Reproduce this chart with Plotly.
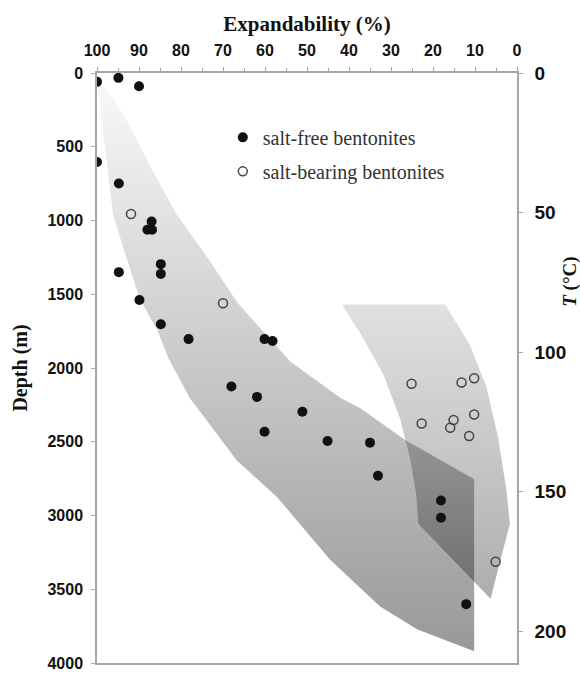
import plotly.graph_objects as go

# ---- data ----
# salt-free bentonites: expandability (%) and depth (m)
free_exp = [100, 94.9, 90, 100, 94.8, 87, 88, 86.9, 84.8, 84.8, 94.8, 89.9, 84.8,
            78.2, 60.1, 58.2, 68.0, 61.9, 51.1, 60.1, 45.1, 35.0, 33.1, 18.1, 18.1, 12.1]
free_depth = [60, 33, 90, 603, 749, 1007, 1063, 1063, 1296, 1362, 1350, 1539, 1703,
              1804, 1804, 1817, 2125, 2196, 2297, 2432, 2495, 2506, 2730, 2898, 3015, 3601]

# salt-bearing bentonites
salt_exp = [91.9, 70, 25.1, 13.2, 10.2, 22.7, 15.1, 15.9, 10.2, 11.4, 5.1]
salt_depth = [956, 1561, 2107, 2098, 2069, 2376, 2353, 2405, 2315, 2461, 3314]

# envelope of salt-free trend (polygon outline)
band1_exp = [100, 96.9, 92.1, 87, 81, 73.5, 66.5, 58.5, 54, 42, 37.4, 26.7, 10.2,
             10.2, 23.8, 32.6, 44.5, 57.1, 66.7, 77.9, 83, 85.5, 89.8, 92.9, 96.2, 97.7, 100]
band1_depth = [50, 137, 363, 650, 959, 1260, 1560, 1810, 1956, 2203, 2271, 2486, 2755,
               3920, 3772, 3617, 3300, 2876, 2627, 2203, 1934, 1752, 1530, 1261, 959, 590, 50]

# envelope of salt-bearing trend
band2_exp = [41.7, 17.1, 11.2, 7.2, 4.5, 2.5, 1.7, 6.3, 23.5, 24.0, 25.5, 27.9, 31.8, 36.6, 41.7]
band2_depth = [1570, 1570, 1844, 2136, 2472, 2831, 3056, 3565, 3056, 2854, 2607, 2338, 2046, 1799, 1570]

x_ticks = list(range(0, 101, 10))
depth_ticks = list(range(0, 4001, 500))
temp_ticks = [0, 50, 100, 150, 200]
depth_max = 4000
temp_max = 211.3

axis_col = "#a6a6a6"
tick_font = dict(family="Liberation Sans", size=16, color="#111111", weight="bold")
serif = "Liberation Serif"

fig = go.Figure()

fig.add_trace(go.Scatter(
    x=band1_exp, y=band1_depth, mode="lines", fill="toself",
    line=dict(width=0), showlegend=False, hoverinfo="skip",
    fillgradient=dict(type="vertical", start=0, stop=depth_max,
                      colorscale=[[0, "rgba(0,0,0,0.02)"], [1, "rgba(0,0,0,0.41)"]])))
fig.add_trace(go.Scatter(
    x=band2_exp, y=band2_depth, mode="lines", fill="toself",
    line=dict(width=0), showlegend=False, hoverinfo="skip",
    fillgradient=dict(type="vertical", start=min(band2_depth), stop=max(band2_depth),
                      colorscale=[[0, "rgba(0,0,0,0.12)"], [1, "rgba(0,0,0,0.32)"]])))

fig.add_trace(go.Scatter(
    x=free_exp, y=free_depth, mode="markers", name="salt-free bentonites",
    marker=dict(symbol="circle", size=10, color="#111111", line=dict(width=0)),
    legendgroup="a"))
fig.add_trace(go.Scatter(
    x=salt_exp, y=salt_depth, mode="markers", name="salt-bearing bentonites",
    marker=dict(symbol="circle-open", size=9, color="#444444", line=dict(width=1.5)),
    legendgroup="b"))

# invisible trace to activate the temperature axis
fig.add_trace(go.Scatter(x=[], y=[], yaxis="y2", showlegend=False, hoverinfo="skip"))

fig.update_layout(
    width=580, height=673,
    margin=dict(l=97, r=63, t=73, b=10),
    paper_bgcolor="white", plot_bgcolor="white",
    showlegend=True,
    legend=dict(x=0.2995, y=0.924, xanchor="left", yanchor="top",
                font=dict(family=serif, size=20, color="#333333"),
                bgcolor="rgba(0,0,0,0)", tracegroupgap=5, itemwidth=30),
    xaxis=dict(side="top", range=[100, 0], tickvals=x_ticks, ticks="outside", ticklen=4,
               tickcolor=axis_col, tickwidth=1.2,
               minor=dict(dtick=5, tick0=0, ticks="outside", ticklen=3, tickcolor=axis_col),
               showline=True, linecolor=axis_col, linewidth=1.5, mirror=True,
               showgrid=False, zeroline=False, tickfont=tick_font, ticklabelstandoff=5,
               title=dict(text="<b>Expandability (%)</b>", standoff=4,
                          font=dict(family=serif, size=21, color="#111111")),
               automargin=False),
    yaxis=dict(range=[depth_max, 0], tickvals=depth_ticks, ticks="outside", ticklen=4,
               tickcolor=axis_col, tickwidth=1.2,
               showline=True, linecolor=axis_col, linewidth=1.5, mirror=False,
               showgrid=False, zeroline=False, tickfont=tick_font, ticklabelstandoff=5,
               ticklabeloverflow="allow",
               title=dict(text="<b>Depth (m)</b>", standoff=14,
                          font=dict(family=serif, size=20, color="#111111")),
               automargin=False),
    yaxis2=dict(overlaying="y", side="right", anchor="x", range=[temp_max, 0],
                tickvals=temp_ticks, ticks="outside", ticklen=4, tickcolor=axis_col,
                tickwidth=1.2, showline=True, linecolor=axis_col, linewidth=1.5,
                showgrid=False, zeroline=False, ticklabelstandoff=8,
                tickfont=dict(family="Liberation Sans", size=19, color="#111111", weight="bold"),
                automargin=False),
    annotations=[dict(text="<b><i>T</i> (°C)</b>", xref="paper", yref="paper",
                      x=1.126, y=0.646, xanchor="center", yanchor="middle",
                      textangle=-90, showarrow=False,
                      font=dict(family=serif, size=19, color="#111111"))],
)

fig.write_html(
    "out.html",
    config={"displayModeBar": False},
    post_script="document.body.style.margin='0';document.body.style.overflow='hidden';",
)
